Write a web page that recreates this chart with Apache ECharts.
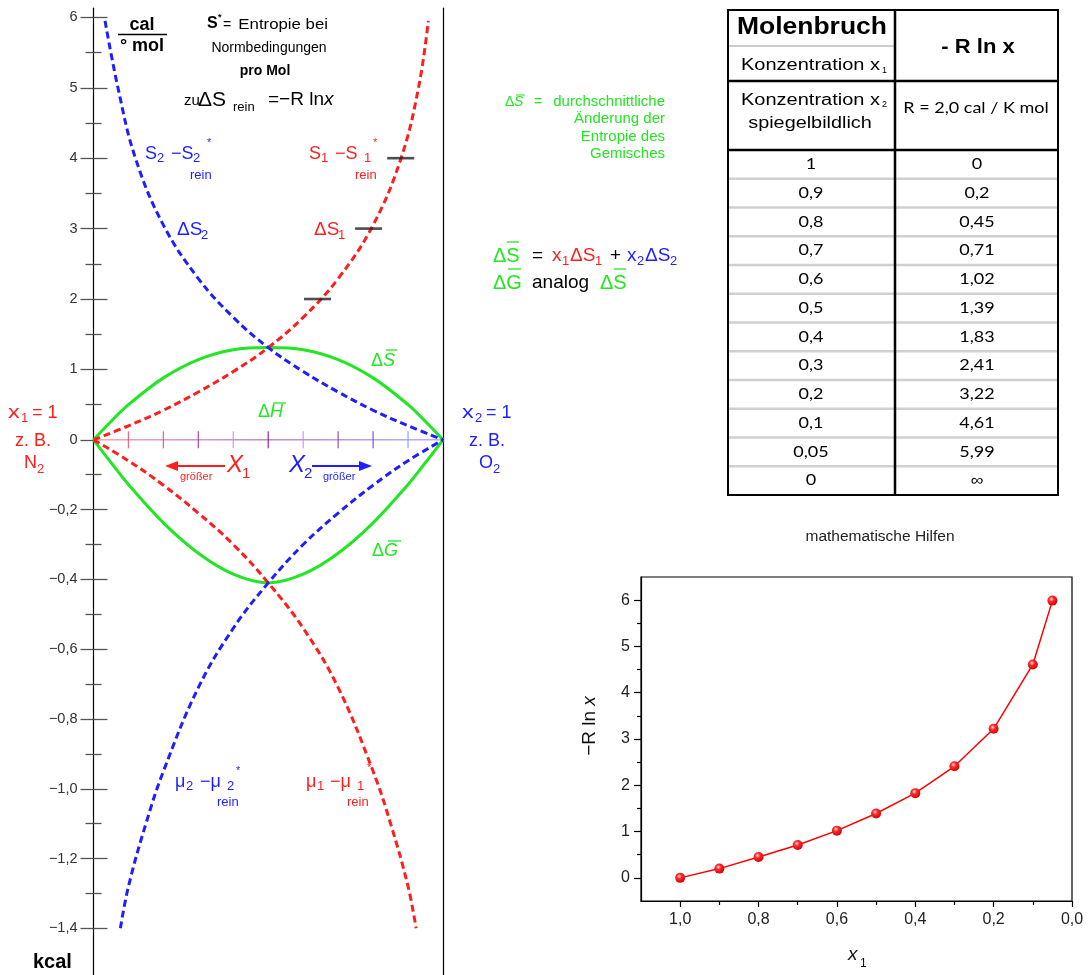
<!DOCTYPE html>
<html>
<head>
<meta charset="utf-8">
<script src="https://cdn.jsdelivr.net/npm/echarts@6/dist/echarts.min.js"></script>
<style>
html,body{margin:0;padding:0;background:#fff;}
#c{width:1089px;height:975px;}
</style>
</head>
<body>
<div id="c"></div>
<script>
// Ideal mixing of two gases (e.g. N2 / O2).
// Upper half of the left panel: partial molar entropies in cal/(K mol).
// Lower half: chemical potentials and free energy of mixing in kcal/mol,
// drawn on the same axis with 0.2 kcal occupying one cal unit.
// Horizontal coordinate: mole fraction x2 (x1 = 1 - x2).

const KCAL_TO_AXIS = 4.955;

// entropy of component 1 relative to the pure gas, S1 - S1*
const dS1_x2  = [0, 0.1, 0.2, 0.3, 0.4, 0.5, 0.6, 0.7, 0.8, 0.88, 0.93, 0.958];
const dS1_cal = [0, 0.2, 0.42, 0.68, 0.97, 1.31, 1.74, 2.29, 3.05, 4.0, 5.0, 5.95];
// entropy of component 2 relative to the pure gas, S2 - S2*
const dS2_x2  = [0.033, 0.07, 0.12, 0.2, 0.3, 0.4, 0.5, 0.6, 0.7, 0.8, 0.9, 1];
const dS2_cal = [5.95, 5.0, 4.0, 3.05, 2.29, 1.74, 1.31, 0.97, 0.68, 0.42, 0.2, 0];
// mean entropy of mixing
const mix_x2    = [0, 0.05, 0.1, 0.2, 0.3, 0.4, 0.5, 0.6, 0.7, 0.8, 0.9, 0.95, 1];
const dSmix_cal = [0, 0.26, 0.5, 0.88, 1.14, 1.28, 1.31, 1.28, 1.14, 0.88, 0.5, 0.26, 0];
// mean free energy of mixing
const dGmix_kcal = [0, -0.065, -0.128, -0.238, -0.325, -0.385, -0.41, -0.385, -0.325, -0.238, -0.128, -0.065, 0];
// chemical potentials relative to the pure gases
const mu1_x2   = [0, 0.1, 0.2, 0.3, 0.4, 0.5, 0.6, 0.7, 0.8, 0.85, 0.9, 0.923];
const mu1_kcal = [0, -0.06, -0.13, -0.21, -0.30, -0.41, -0.54, -0.71, -0.95, -1.1, -1.28, -1.4];
const mu2_x2   = [0.077, 0.1, 0.15, 0.2, 0.3, 0.4, 0.5, 0.6, 0.7, 0.8, 0.9, 1];
const mu2_kcal = [-1.4, -1.28, -1.1, -0.95, -0.71, -0.54, -0.41, -0.30, -0.21, -0.13, -0.06, 0];
// reading marks on the S1 curve
const marks_x2  = [0.641, 0.787, 0.879];
const marks_cal = [2, 3, 4];

// left axis ticks
const calMajor  = [0, 1, 2, 3, 4, 5, 6];
const calMinor  = [0.5, 1.5, 2.5, 3.5, 4.5, 5.5];
const kcalMajor = [-0.2, -0.4, -0.6, -0.8, -1.0, -1.2, -1.4];
const kcalMinor = [-0.1, -0.3, -0.5, -0.7, -0.9, -1.1, -1.3];
// mole-fraction scale along the zero line, shading from component 1 (red) to component 2 (blue)
const x2Ticks     = [0.1, 0.2, 0.3, 0.4, 0.5, 0.6, 0.7, 0.8, 0.9];
const x2TickColor = ['#ea4a78', '#d8407e', '#a42a8c', '#c88ad0', '#7a0f82', '#b890d8', '#7a3cb0', '#6a3cc8', '#8c8cf4'];

// table: mole fraction and -R ln x (R = 2,0 cal / K mol)
const tableX1   = [1, 0.9, 0.8, 0.7, 0.6, 0.5, 0.4, 0.3, 0.2, 0.1, 0.05, 0];
const tableRlnx = [0, 0.2, 0.45, 0.71, 1.02, 1.39, 1.83, 2.41, 3.22, 4.61, 5.99, Infinity];

// small helper chart ticks
const helpXMajor = [0, 0.2, 0.4, 0.6, 0.8, 1.0];
const helpXMinor = [0.1, 0.3, 0.5, 0.7, 0.9];
const helpYMajor = [0, 1, 2, 3, 4, 5, 6];
const helpYMinor = [0.5, 1.5, 2.5, 3.5, 4.5, 5.5];

const F = '"Liberation Sans", Arial, sans-serif';
const LATO = 'Lato, "Open Sans", sans-serif';
const GREEN = '#22e622', RED = '#ff1e1e', BLUE = '#1e1eff';

const comma = v => String(v).replace('.', ',');
const pairs = (xs, ys, k) => xs.map((x, i) => [x, ys[i] * (k || 1)]);

const majorAxisVals = calMajor.concat(kcalMajor.map(v => v * KCAL_TO_AXIS));
const minorAxisVals = calMinor.concat(kcalMinor.map(v => v * KCAL_TO_AXIS));
function fmtMain(v) {
  if (v > -1e-6) return String(Math.round(v));
  return '\u2212' + comma((-v / KCAL_TO_AXIS).toFixed(1));
}

// ---------- annotation graphics ----------
const G = [];
function T(x, y, s, o) {
  o = o || {};
  const font = (o.it ? 'italic ' : '') + (o.b ? 'bold ' : '') + (o.fs || 14) + 'px ' + (o.ff || F);
  G.push({type: 'text', x: x, y: y, z: 50, scaleX: o.sx || 1, rotation: o.rot || 0,
    style: {text: s, fill: o.c || '#000', font: font,
      align: o.a || 'left', verticalAlign: 'middle',
      textAlign: o.a || 'left', textVerticalAlign: 'middle', rich: o.rich}});
}
function L(x1, y1, x2, y2, c, w) {
  G.push({type: 'line', z: 50, shape: {x1: x1, y1: y1, x2: x2, y2: y2},
    style: {stroke: c || '#000', lineWidth: w || 1}});
}
function P(pts, c) {
  G.push({type: 'polygon', z: 50, shape: {points: pts}, style: {fill: c}});
}

// unit
T(142, 25, 'cal', {b: 1, fs: 18, a: 'center'});
L(118, 34.5, 167, 34.5, '#000', 1.5);
T(142, 46, '\u00b0 mol', {b: 1, fs: 18, a: 'center'});

// S* note
T(207, 24, 'S', {b: 1, fs: 16});
T(218, 18, '*', {b: 1, fs: 9});
T(223, 25, '=', {fs: 14});
T(328, 25, 'Entropie bei', {fs: 14, a: 'right', sx: 1.2});
T(269, 48, 'Normbedingungen', {fs: 14, a: 'center'});
T(265, 71, 'pro Mol', {b: 1, fs: 14, a: 'center'});
T(184, 101, 'zu', {fs: 15});
T(198, 100, '\u0394S', {fs: 21});
T(233, 107, 'rein', {fs: 13});
T(268, 100, '=\u2212R ln', {fs: 19});
T(324, 100, 'x', {fs: 19, it: 1});

// S2 - S2*rein (blue)
T(145, 154, 'S', {fs: 18, c: BLUE});
T(157, 158, '2', {fs: 13, c: BLUE});
T(171, 154, '\u2212S', {fs: 18, c: BLUE});
T(193, 158, '2', {fs: 13, c: BLUE});
T(207, 143, '*', {fs: 11, c: BLUE});
T(190, 175, 'rein', {fs: 13, c: BLUE});
// S1 - S1*rein (red)
T(309, 154, 'S', {fs: 18, c: RED});
T(321, 158, '1', {fs: 13, c: RED});
T(335, 154, '\u2212S', {fs: 18, c: RED});
T(364, 158, '1', {fs: 13, c: RED});
T(373, 143, '*', {fs: 11, c: RED});
T(355, 175, 'rein', {fs: 13, c: RED});

T(177, 230, '\u0394S', {fs: 19, c: BLUE});
T(201, 235, '2', {fs: 13, c: BLUE});
T(314, 230, '\u0394S', {fs: 19, c: RED});
T(338, 235, '1', {fs: 13, c: RED});

// curve names in green
T(371, 361, '\u0394', {fs: 18, c: GREEN});
T(383, 361, 'S', {fs: 18, it: 1, c: GREEN});
L(386, 350, 397, 350, GREEN, 1.3);
T(258, 412, '\u0394', {fs: 18, c: GREEN});
T(270, 412, 'H', {fs: 18, it: 1, c: GREEN});
L(273, 403, 286, 403, GREEN, 1.3);
T(372, 551, '\u0394', {fs: 18, c: GREEN});
T(384, 551, 'G', {fs: 18, it: 1, c: GREEN});
L(388, 541, 401, 541, GREEN, 1.3);

// pure component labels
T(8, 413, 'x', {fs: 18, c: RED, sx: 1.3});
T(21, 418, '1', {fs: 13, c: RED});
T(32, 413, '= 1', {fs: 18, c: RED});
T(15, 441, 'z. B.', {fs: 18, c: RED});
T(24, 463, 'N', {fs: 18, c: RED});
T(37, 469, '2', {fs: 13, c: RED});

T(462, 413, 'x', {fs: 18, c: BLUE, sx: 1.3});
T(475, 418, '2', {fs: 13, c: BLUE});
T(486, 413, '= 1', {fs: 18, c: BLUE});
T(469, 441, 'z. B.', {fs: 18, c: BLUE});
T(479, 463, 'O', {fs: 18, c: BLUE});
T(493, 469, '2', {fs: 13, c: BLUE});

// direction arrows
L(225, 466, 175, 466, RED, 2);
P([[165, 466], [178, 461], [178, 471]], RED);
T(180, 477, 'gr\u00f6\u00dfer', {fs: 11, c: RED});
T(227, 465, 'X', {fs: 24, it: 1, c: RED});
T(242, 474, '1', {fs: 15, c: RED});
T(289, 465, 'X', {fs: 24, it: 1, c: BLUE});
T(304, 474, '2', {fs: 15, c: BLUE});
L(312, 466, 362, 466, BLUE, 2);
P([[372, 466], [359, 461], [359, 471]], BLUE);
T(323, 477, 'gr\u00f6\u00dfer', {fs: 11, c: BLUE});

// chemical potential labels
T(175, 782, '\u03bc', {fs: 18, c: BLUE});
T(186, 786, '2', {fs: 13, c: BLUE});
T(200, 782, '\u2212\u03bc', {fs: 18, c: BLUE});
T(227, 786, '2', {fs: 13, c: BLUE});
T(236, 771, '*', {fs: 11, c: BLUE});
T(217, 802, 'rein', {fs: 13, c: BLUE});
T(306, 782, '\u03bc', {fs: 18, c: RED});
T(317, 786, '1', {fs: 13, c: RED});
T(330, 782, '\u2212\u03bc', {fs: 18, c: RED});
T(357, 786, '1', {fs: 13, c: RED});
T(367, 768, '*', {fs: 11, c: RED});
T(347, 802, 'rein', {fs: 13, c: RED});

T(33, 962, 'kcal', {b: 1, fs: 20});

// definition of the mean entropy of mixing
T(505, 102, '\u0394', {fs: 14, c: GREEN});
T(514, 102, 'S', {fs: 14, it: 1, c: GREEN});
L(516, 95, 525, 95, GREEN, 1);
T(534, 102, '=', {fs: 14, c: GREEN});
T(665, 102, 'durchschnittliche', {fs: 15, c: GREEN, a: 'right'});
T(665, 119, '\u00c4nderung der', {fs: 15, c: GREEN, a: 'right'});
T(665, 137, 'Entropie des', {fs: 15, c: GREEN, a: 'right'});
T(665, 154, 'Gemisches', {fs: 15, c: GREEN, a: 'right'});

T(493, 256, '\u0394S', {fs: 20, c: GREEN});
L(507, 242, 519, 242, GREEN, 1.3);
T(532, 256, '=', {fs: 19});
T(552, 256, 'x', {fs: 19, c: RED});
T(562, 261, '1', {fs: 13, c: RED});
T(570, 256, '\u0394S', {fs: 19, c: RED});
T(595, 261, '1', {fs: 13, c: RED});
T(610, 256, '+', {fs: 19});
T(627, 256, 'x', {fs: 19, c: BLUE});
T(637, 261, '2', {fs: 13, c: BLUE});
T(645, 256, '\u0394S', {fs: 19, c: BLUE});
T(670, 261, '2', {fs: 13, c: BLUE});

T(493, 283, '\u0394G', {fs: 20, c: GREEN});
L(508, 269, 521, 269, GREEN, 1.3);
T(532, 283, 'analog', {fs: 19});
T(600, 283, '\u0394S', {fs: 20, c: GREEN});
L(614, 269, 626, 269, GREEN, 1.3);

// ---------- table ----------
const TL = 728, TR = 1058, TC = 895, TT = 10, TB = 495, H1 = 81, H2 = 150;
const RH = (TB - H2) / tableX1.length;
for (let i = 1; i < tableX1.length; i++) L(TL + 1, H2 + i * RH, TR - 1, H2 + i * RH, '#d0d0d0', 2.5);
L(TL + 1, 46, TC, 46, '#cccccc', 2);
G.push({type: 'rect', z: 51, shape: {x: TL, y: TT, width: TR - TL, height: TB - TT},
  style: {fill: null, stroke: '#000', lineWidth: 2}});
L(TC, TT, TC, TB, '#000', 2.5);
L(TL, H1, TR, H1, '#000', 2.5);
L(TL, H2, TR, H2, '#000', 2.5);
T(812, 28, 'Molenbruch', {b: 1, fs: 23, a: 'center', sx: 1.15});
T(880, 66, 'Konzentration x', {fs: 16, a: 'right', sx: 1.25});
T(882, 71, '1', {fs: 9});
T(978, 47, '- R ln x', {b: 1, fs: 20, a: 'center', sx: 1.1});
T(880, 101, 'Konzentration x', {fs: 16, a: 'right', sx: 1.25});
T(882, 105, '2', {fs: 9});
T(810, 124, 'spiegelbildlich', {fs: 16, a: 'center', sx: 1.24});
T(976, 108, 'R = 2,0 cal / K mol', {fs: 15, ff: LATO, a: 'center', sx: 1.2});
tableX1.forEach((x, i) => {
  const y = H2 + (i + 0.5) * RH;
  T(811, y, comma(x), {fs: 15, ff: LATO, a: 'center', sx: 1.2});
  const r = tableRlnx[i];
  T(977, y, isFinite(r) ? comma(r) : '\u221e', {fs: 15, ff: isFinite(r) ? LATO : F, a: 'center', sx: 1.2});
});

// helper chart texts
T(880, 537, 'mathematische Hilfen', {fs: 15.5, c: '#222', a: 'center'});
T(590, 726, '\u2212R ln {i|x}', {fs: 19, a: 'center', rot: Math.PI / 2, c: '#111',
  rich: {i: {font: 'italic 19px ' + F, fill: '#111'}}});
T(848, 955, 'x', {fs: 19, it: 1, c: '#111'});
T(860, 964, '1', {fs: 12, c: '#111'});

// ---------- chart ----------
const tickStyle = {color: '#555', width: 1.3};
const yBase = {gridIndex: 0, type: 'value', min: -7.6, max: 6.13, splitLine: {show: false}, axisLabel: {show: false}};
const helpData = tableX1.map((x, i) => [x, tableRlnx[i]]).filter(p => isFinite(p[1]));

const dashed = (color) => ({color: color, width: 3, type: [7, 4]});
const option = {
  animation: false,
  grid: [
    {left: 93.5, top: 8.2, width: 349.5, height: 969.3},
    {left: 641, top: 577, width: 431, height: 324, show: true, borderColor: '#000', borderWidth: 1.2, backgroundColor: 'transparent'}
  ],
  xAxis: [
    {gridIndex: 0, type: 'value', min: 0, max: 1, position: 'bottom',
      axisLine: {show: false, onZero: true}, axisTick: {show: false},
      axisLabel: {show: false}, splitLine: {show: false}},
    {gridIndex: 1, type: 'value', inverse: true, min: 0, max: 1.1, position: 'bottom',
      axisLine: {onZero: false, lineStyle: {color: '#000', width: 1.2}},
      axisTick: {length: 6, customValues: helpXMajor, lineStyle: {color: '#000', width: 1.2}},
      axisLabel: {customValues: helpXMajor, formatter: v => comma(v.toFixed(1)), fontSize: 16, color: '#222', fontFamily: F, margin: 11},
      splitLine: {show: false}},
    {gridIndex: 1, type: 'value', inverse: true, min: 0, max: 1.1, position: 'bottom',
      axisLine: {show: false, onZero: false},
      axisTick: {length: 4, customValues: helpXMinor, lineStyle: {color: '#000', width: 1.2}},
      axisLabel: {show: false}, splitLine: {show: false}}
  ],
  yAxis: [
    Object.assign({}, yBase, {position: 'left',
      axisLine: {show: true, onZero: false, lineStyle: {color: '#000', width: 1.2}},
      axisTick: {length: 13, customValues: majorAxisVals, lineStyle: tickStyle},
      axisLabel: {show: true, customValues: majorAxisVals, formatter: fmtMain, margin: 16, fontSize: 14.5, color: '#333', fontFamily: F}}),
    Object.assign({}, yBase, {position: 'left', axisLine: {show: false, onZero: false},
      axisTick: {inside: true, length: 14, customValues: majorAxisVals.filter(v => v !== 0), lineStyle: tickStyle}}),
    Object.assign({}, yBase, {position: 'left', axisLine: {show: false, onZero: false},
      axisTick: {length: 8, customValues: minorAxisVals, lineStyle: tickStyle}}),
    Object.assign({}, yBase, {position: 'left', axisLine: {show: false, onZero: false},
      axisTick: {inside: true, length: 8, customValues: minorAxisVals, lineStyle: tickStyle}}),
    Object.assign({}, yBase, {position: 'right',
      axisLine: {show: true, onZero: false, lineStyle: {color: '#000', width: 1.2}},
      axisTick: {show: false}}),
    {gridIndex: 1, type: 'value', min: -0.5, max: 6.5, position: 'left',
      axisLine: {onZero: false, lineStyle: {color: '#000', width: 1.2}},
      axisTick: {length: 7, customValues: helpYMajor, lineStyle: {color: '#000', width: 1.2}},
      axisLabel: {customValues: helpYMajor, fontSize: 16, color: '#222', fontFamily: F, margin: 11},
      splitLine: {show: false}},
    {gridIndex: 1, type: 'value', min: -0.5, max: 6.5, position: 'left',
      axisLine: {show: false, onZero: false},
      axisTick: {length: 4, customValues: helpYMinor, lineStyle: {color: '#000', width: 1.2}},
      axisLabel: {show: false}, splitLine: {show: false}}
  ],
  series: [
    // zero line of the mole-fraction scale
    {type: 'line', xAxisIndex: 0, yAxisIndex: 0, data: [[0, 0], [1, 0]], showSymbol: false, silent: true,
      lineStyle: {width: 1, color: {type: 'linear', x: 0, y: 0, x2: 1, y2: 0, colorStops: [
        {offset: 0, color: '#f07a98'}, {offset: 0.5, color: '#a050b0'}, {offset: 1, color: '#8a8aff'}]}}, z: 1},
    {type: 'scatter', xAxisIndex: 0, yAxisIndex: 0, symbol: 'rect', symbolSize: [1.3, 17], silent: true,
      data: x2Ticks.map((x, i) => ({value: [x, 0], itemStyle: {color: x2TickColor[i]}})), z: 1},
    {type: 'line', xAxisIndex: 0, yAxisIndex: 0, data: pairs(mix_x2, dSmix_cal), smooth: 0.35, showSymbol: false,
      lineStyle: {color: GREEN, width: 3}, z: 3},
    {type: 'line', xAxisIndex: 0, yAxisIndex: 0, data: pairs(mix_x2, dGmix_kcal, KCAL_TO_AXIS), smooth: 0.35, showSymbol: false,
      lineStyle: {color: GREEN, width: 3}, z: 3},
    {type: 'line', xAxisIndex: 0, yAxisIndex: 0, data: pairs(dS1_x2, dS1_cal), smooth: 0.4, showSymbol: false,
      lineStyle: dashed(RED), z: 4},
    {type: 'line', xAxisIndex: 0, yAxisIndex: 0, data: pairs(dS2_x2, dS2_cal), smooth: 0.4, showSymbol: false,
      lineStyle: dashed(BLUE), z: 4},
    {type: 'line', xAxisIndex: 0, yAxisIndex: 0, data: pairs(mu1_x2, mu1_kcal, KCAL_TO_AXIS), smooth: 0.4, showSymbol: false,
      lineStyle: dashed(RED), z: 4},
    {type: 'line', xAxisIndex: 0, yAxisIndex: 0, data: pairs(mu2_x2, mu2_kcal, KCAL_TO_AXIS), smooth: 0.4, showSymbol: false,
      lineStyle: dashed(BLUE), z: 4},
    {type: 'scatter', xAxisIndex: 0, yAxisIndex: 0, data: pairs(marks_x2, marks_cal), symbol: 'rect', symbolSize: [27, 2.6],
      itemStyle: {color: '#222'}, z: 5},
    {type: 'line', xAxisIndex: 1, yAxisIndex: 5, data: helpData, symbol: 'circle', symbolSize: 10,
      lineStyle: {color: '#ff0000', width: 1.5},
      itemStyle: {color: {type: 'radial', x: 0.4, y: 0.35, r: 0.7, colorStops: [
        {offset: 0, color: '#ffdede'}, {offset: 0.35, color: '#ff2a2a'}, {offset: 1, color: '#c80000'}]}, borderWidth: 0},
      z: 5}
  ],
  graphic: G
};

const chart = echarts.init(document.getElementById('c'), null, {renderer: 'canvas'});
chart.setOption(option);
</script>
</body>
</html>
